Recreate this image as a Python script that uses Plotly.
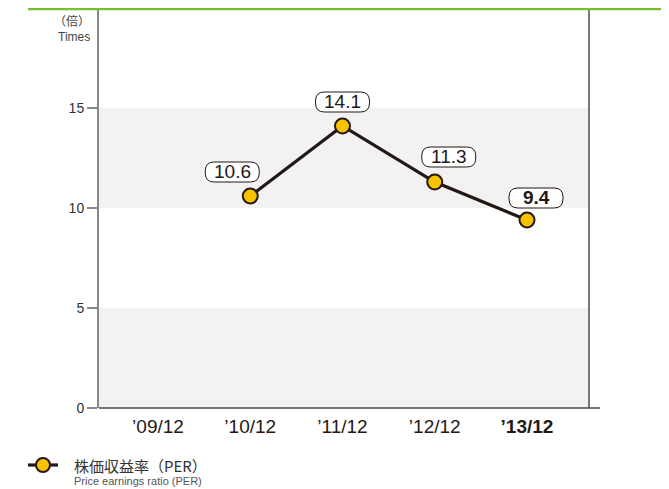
import plotly.graph_objects as go

categories = ["’09/12", "’10/12", "’11/12", "’12/12", "’13/12"]
per_values = [None, 10.6, 14.1, 11.3, 9.4]
label_texts = ["", "10.6", "14.1", "11.3", "<b>9.4</b>"]
y_ticks = [0, 5, 10, 15]

# label box offsets in pixels relative to each point (style only)
label_dx = [0, -18, 0, 14, 9]
label_dy = [0, 24, 24, 25, 22]

FONT = "Liberation Sans, Arial, Noto Sans CJK JP, sans-serif"
DARK = "#231815"

# page is rendered with an 8px body margin; layout below compensates
PLOT_L, PLOT_R, PLOT_B = 99, 589, 408
PW = PLOT_R - PLOT_L
PH = 398


def px_x(p):
    return (p - PLOT_L) / PW


def px_y(p):
    return (PLOT_B - p) / PH


xs = list(range(len(categories)))
ticktext = categories[:-1] + ["<b>" + categories[-1] + "</b>"]

fig = go.Figure()

fig.add_trace(go.Scatter(
    x=[x for x, v in zip(xs, per_values) if v is not None],
    y=[v for v in per_values if v is not None],
    mode="lines+markers",
    line=dict(color=DARK, width=3.2),
    marker=dict(size=15, color="#f7c300", line=dict(color=DARK, width=2)),
    showlegend=False,
    hoverinfo="skip",
))

shapes = []
for y0, y1 in [(0, 5), (10, 15)]:
    shapes.append(dict(type="rect", xref="paper", yref="y", x0=0, x1=1, y0=y0, y1=y1,
                       fillcolor="#f2f2f2", line=dict(width=0), layer="below"))
shapes.append(dict(type="line", xref="paper", yref="paper", x0=1, x1=1, y0=0, y1=px_y(9),
                   line=dict(color="#4a4a4a", width=1.5)))
shapes.append(dict(type="line", xref="paper", yref="paper", x0=0, x1=px_x(600), y0=0, y1=0,
                   line=dict(color="#4a4a4a", width=1.5)))
shapes.append(dict(type="line", xref="paper", yref="paper", x0=px_x(28), x1=px_x(680),
                   y0=px_y(9), y1=px_y(9), line=dict(color="#76c02a", width=2.5)))

annotations = []


def rounded_rect(w, h, r, cx, cy):
    x0, x1 = cx - w / 2, cx + w / 2
    y0, y1 = cy - h / 2, cy + h / 2
    return (f"M{x0 + r},{y0} L{x1 - r},{y0} Q{x1},{y0} {x1},{y0 + r} "
            f"L{x1},{y1 - r} Q{x1},{y1} {x1 - r},{y1} L{x0 + r},{y1} "
            f"Q{x0},{y1} {x0},{y1 - r} L{x0},{y0 + r} Q{x0},{y0} {x0 + r},{y0} Z")


for x, v, t, dx, dy in zip(xs, per_values, label_texts, label_dx, label_dy):
    if v is None:
        continue
    shapes.append(dict(type="path", xref="x", yref="y", xsizemode="pixel", ysizemode="pixel",
                       xanchor=x, yanchor=v, path=rounded_rect(54, 20, 9, dx, dy),
                       fillcolor="white", line=dict(color=DARK, width=1)))
    annotations.append(dict(x=x, y=v, xref="x", yref="y", text=t, showarrow=False,
                            xshift=dx, yshift=dy + 1,
                            font=dict(family=FONT, size=19, color=DARK)))

annotations.append(dict(xref="paper", yref="paper", x=px_x(92), y=px_y(20),
                        text="（倍）", showarrow=False, xanchor="right", yanchor="middle",
                        font=dict(family="Noto Sans CJK JP, sans-serif", size=12, color="#444")))
annotations.append(dict(xref="paper", yref="paper", x=px_x(92), y=px_y(37),
                        text="Times", showarrow=False, xanchor="right", yanchor="middle",
                        font=dict(family=FONT, size=12, color="#444")))

ly = px_y(465)
shapes.append(dict(type="line", xref="paper", yref="paper", x0=px_x(28), x1=px_x(58),
                   y0=ly, y1=ly, line=dict(color=DARK, width=3.2)))
shapes.append(dict(type="circle", xref="paper", yref="paper",
                   x0=px_x(36), x1=px_x(50), y0=px_y(472), y1=px_y(458),
                   fillcolor="#f7c300", line=dict(color=DARK, width=2)))
annotations.append(dict(xref="paper", yref="paper", x=px_x(72), y=ly,
                        text="株価収益率（PER）", showarrow=False, xanchor="left", yanchor="middle",
                        font=dict(family="Noto Sans CJK JP, sans-serif", size=15, color="#333")))
annotations.append(dict(xref="paper", yref="paper", x=px_x(72), y=px_y(481),
                        text="Price earnings ratio (PER)", showarrow=False, xanchor="left", yanchor="middle",
                        font=dict(family=FONT, size=11, color="#555")))

r0 = -59 / 92.25
r1 = r0 + PW / 92.25

fig.update_layout(
    width=661, height=481,
    margin=dict(l=PLOT_L - 8, r=661 - (PLOT_R - 8), t=2, b=481 - (PLOT_B - 8), pad=0),
    paper_bgcolor="white", plot_bgcolor="white",
    shapes=shapes, annotations=annotations,
    showlegend=False,
    xaxis=dict(range=[r0, r1], tickvals=xs, ticktext=ticktext, showgrid=False, zeroline=False,
               showline=False, ticks="", ticklabelstandoff=5,
               tickfont=dict(family=FONT, size=19, color=DARK)),
    yaxis=dict(range=[0, PH / 20], tickvals=y_ticks, showgrid=False, zeroline=False,
               showline=True, linecolor="#888", linewidth=2, ticks="outside", ticklen=10,
               tickcolor="#888", tickwidth=1.5,
               tickfont=dict(family=FONT, size=14, color="#333")),
)

fig.write_html("out.html")
